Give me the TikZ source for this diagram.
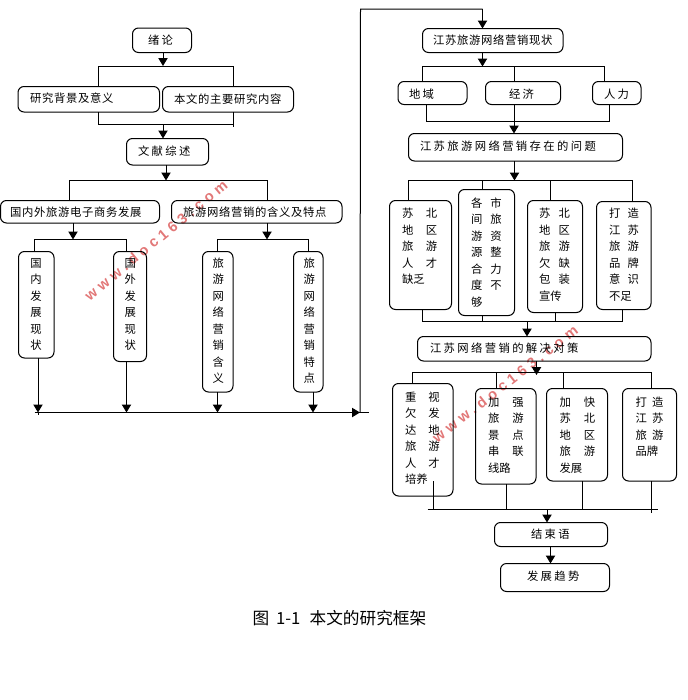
\documentclass[tikz,border=0pt]{standalone}
\usepackage{fontspec}
\usetikzlibrary{arrows.meta,calc}
\newfontfamily\cjN{Noto Sans CJK SC}
\newfontfamily\cjA[LetterSpace=6]{Noto Sans CJK SC}
\newfontfamily\cjB[LetterSpace=21]{Noto Sans CJK SC}
\newfontfamily\wmfont[LetterSpace=30]{Liberation Sans}
\newlength\bxw \newlength\bxh \newlength\bxl \newlength\bxr
\newcommand\sz{\fontsize{8.5pt}{12.375pt}\selectfont}
% name, x1, y1, x2, y2, text left, first line centre y, content
\newcommand\bx[8]{%
  \pgfmathsetlength\bxw{(#4-#2)*0.75pt}%
  \pgfmathsetlength\bxh{(#5-#3)*0.75pt}%
  \pgfmathsetlength\bxl{(#6-#2)*0.75pt}%
  \pgfmathsetlength\bxr{((#3+#5)/2-#7-3.9)*0.75pt}%
  \node[rbox,minimum width=\bxw,minimum height=\bxh] (#1) at ({(#2+#4)/2},{(#3+#5)/2})
    {\makebox[\bxw][l]{\hspace*{\bxl}\rlap{\raisebox{\bxr}[0pt][0pt]{\parbox[t]{200pt}{\raggedright\sz #8}}}}};%
}
\tikzset{
  rbox/.style={draw=black,line width=0.75pt,rounded corners=4.5pt,inner sep=0pt,outer sep=0pt},
  ln/.style={draw=black,line width=0.75pt},
  arr/.style={ln,-{Triangle[width=7pt,length=6pt]}},
  mark text/.style={text=wmred,font=\wmfont\bfseries\fontsize{11pt}{12pt}\selectfont}
}
\definecolor{wmred}{RGB}{226,120,120}
\begin{document}
\begin{tikzpicture}[x=0.75pt,y=-0.75pt]
\path[use as bounding box] (0,0) rectangle (687,700);
\node[mark text,rotate=39.5] (wm1) at (156,240) {www.doc163.com};
\node[mark text,rotate=38] (wm2) at (505,384) {www.doc163.com};
% left column boxes
\bx{intro}{132.5}{28}{191.5}{52.5}{148}{41}{\cjB 绪论}
\bx{bg}{18}{86.5}{159.5}{112}{30}{99}{\cjA 研究背景及意义}
\bx{main}{162.5}{86.5}{293.5}{112}{174}{99.5}{\cjA 本文的主要研究内容}
\bx{lit}{126.5}{138.5}{208.5}{165}{138}{152}{\cjB 文献综述}
\bx{ec}{0.5}{200.5}{159.5}{223}{10}{213}{\cjA 国内外旅游电子商务发展}
\bx{def}{171.5}{200.5}{342}{223}{183}{213}{\cjA 旅游网络营销的含义及特点}
\bx{dom}{18.5}{251.5}{54}{358}{30.5}{263.5}{\cjN 国\\内\\发\\展\\现\\状}
\bx{abr}{113.5}{251.5}{146.5}{361.5}{124.5}{263.5}{\cjN 国\\外\\发\\展\\现\\状}
\bx{mean}{202.5}{251.5}{233}{392}{212.5}{263.5}{\cjN 旅\\游\\网\\络\\营\\销\\含\\义}
\bx{feat}{293.5}{251.5}{323}{392}{303.5}{263.5}{\cjN 旅\\游\\网\\络\\营\\销\\特\\点}
% right column boxes
\bx{now}{422.5}{28.5}{563}{52.5}{433}{41}{\cjA 江苏旅游网络营销现状}
\bx{geo}{398}{81.5}{467}{104.5}{409}{95}{\cjB 地域}
\bx{eco}{485.5}{81.5}{560.5}{104.5}{509}{95}{\cjB 经济}
\bx{hum}{592.5}{81.5}{641}{104.5}{604}{95}{\cjB 人力}
\bx{prob}{408.5}{133.5}{622.5}{161}{420}{147}{\cjB 江苏旅游网络营销存在的问题}
\bx{pa}{389.5}{200.5}{451.5}{309.5}{402}{214}{\cjN\def\G{\hspace{9.5pt}}苏\G 北\\地\G 区\\旅\G 游\\人\G 才\\缺乏}
\bx{pb}{458.5}{189.5}{514.5}{315.5}{471}{203.3}{\cjN\def\G{\hspace{6pt}}各\G 市\\间\G 旅\\游\G 资\\源\G 整\\合\G 力\\度\G 不\\够}
\bx{pc}{527.5}{200.5}{582.5}{312.5}{539}{214}{\cjN\def\G{\hspace{6.3pt}}苏\G 北\\地\G 区\\旅\G 游\\欠\G 缺\\包\G 装\\宣传}
\bx{pd}{596.5}{201.5}{651}{309.5}{609}{214}{\cjN\def\G{\hspace{5.5pt}}打\G 造\\江\G 苏\\旅\G 游\\品\G 牌\\意\G 识\\不足}
\bx{sol}{417.5}{336.5}{651}{361}{430}{349}{\cjB 江苏网络营销的解决对策}
\bx{sa}{392.5}{383.5}{453}{496}{405}{397.3}{\cjN\def\G{\hspace{9pt}}重\G 视\\欠\G 发\\达\G 地\\旅\G 游\\人\G 才\\培养}
\bx{sb}{475.5}{388.5}{536}{484}{488}{402.3}{\cjN\def\G{\hspace{9.7pt}}加\G 强\\旅\G 游\\景\G 点\\串\G 联\\线路}
\bx{sc}{546.5}{388.5}{607.5}{481}{559.5}{402.3}{\cjN\def\G{\hspace{9.7pt}}加\G 快\\苏\G 北\\地\G 区\\旅\G 游\\发展}
\bx{sd}{622.5}{388.5}{676.5}{481}{635.5}{402.3}{\cjN\def\G{\hspace{4pt}}打\G 造\\江\G 苏\\旅\G 游\\品牌}
\bx{end}{494.5}{522.5}{607.5}{546.5}{531}{535}{\cjB 结束语}
\bx{trend}{500.5}{563.5}{609.5}{591.5}{527}{577}{\cjB 发展趋势}
\node[font=\cjN\fontsize{12.5pt}{14pt}\selectfont,inner sep=0pt] (cap) at (339.5,618) {图\hspace{5pt}1-1\hspace{7pt}本文的研究框架};
% junction coordinates
\coordinate (a1) at (163,66);   \coordinate (a1l) at (98.5,66);  \coordinate (a1r) at (233,66);
\coordinate (a2) at (163,124.5);\coordinate (a2l) at (98.5,124.5);\coordinate (a2r) at (233,124.5);\coordinate (a2e) at (233,127);
\coordinate (a3) at (166,180.5);\coordinate (a3l) at (69.5,180.5);\coordinate (a3r) at (267.5,180.5);
\coordinate (a4) at (73,239.5); \coordinate (a4l) at (34.5,239.5);\coordinate (a4r) at (126.5,239.5);
\coordinate (a5) at (267,239.5);\coordinate (a5l) at (217.5,239.5);\coordinate (a5r) at (308.5,239.5);
\coordinate (b1) at (38,412.5); \coordinate (b1e) at (38,415);\coordinate (b2) at (126.5,412.5);\coordinate (b3) at (217.5,412.5);\coordinate (b4) at (313,412.5);
\coordinate (bl) at (34.5,412.5);\coordinate (be) at (369,412.5);\coordinate (bm) at (360,412.5);\coordinate (bs) at (342,412.5);
\coordinate (ctl) at (360.5,9); \coordinate (ctr) at (482.5,9);
% left column connectors
\draw[arr] (intro.south -| a1) -- (a1);
\draw[ln] (bg.north -| a1l) -- (a1l) -- (a1r) -- (main.north -| a1r);
\draw[ln] (bg.south -| a2l) -- (a2l) -- (a2r);
\draw[ln] (main.south -| a2r) -- (a2e);
\draw[arr] (a2) -- (lit.north -| a2);
\draw[arr] (lit.south -| a3) -- (a3);
\draw[ln] (ec.north -| a3l) -- (a3l) -- (a3r) -- (def.north -| a3r);
\draw[arr] (ec.south -| a4) -- (a4);
\draw[arr] (def.south -| a5) -- (a5);
\draw[ln] (dom.north -| a4l) -- (a4l) -- (a4r) -- (abr.north -| a4r);
\draw[ln] (mean.north -| a5l) -- (a5l) -- (a5r) -- (feat.north -| a5r);
\draw[arr] (dom.south -| b1) -- (b1);
\draw[ln] (b1) -- (b1e);
\draw[arr] (abr.south -| b2) -- (b2);
\draw[arr] (mean.south -| b3) -- (b3);
\draw[arr] (feat.south -| b4) -- (b4);
\draw[ln] (bl) -- (be);
\draw[arr] (bs) -- (bm);
\draw[ln] (bm) -- (ctl) -- (ctr);
\draw[arr] (ctr) -- (now.north -| ctr);
% right column junctions
\coordinate (c1) at (482.5,66.5);\coordinate (c1l) at (422.5,66.5);\coordinate (c1m) at (514,66.5);\coordinate (c1r) at (604.5,66.5);
\coordinate (c2) at (514,121);\coordinate (c2l) at (426.5,121);\coordinate (c2r) at (609,121);
\coordinate (d1) at (514.5,180.5);\coordinate (d1a) at (408.5,180.5);\coordinate (d1b) at (482.5,180.5);\coordinate (d1c) at (550.5,180.5);\coordinate (d1d) at (632,180.5);
\coordinate (d2) at (527,321.5);\coordinate (d2a) at (422.5,321.5);\coordinate (d2b) at (482.5,321.5);\coordinate (d2c) at (555.5,321.5);\coordinate (d2d) at (622.5,321.5);
\coordinate (e1) at (536.5,375);\coordinate (e1h) at (536.5,372.5);\coordinate (e1a) at (412.5,372.5);\coordinate (e1b) at (496.5,372.5);\coordinate (e1c) at (563,372.5);\coordinate (e1d) at (651.5,372.5);
\coordinate (e2) at (547,509.5);\coordinate (e2l) at (427.5,509.5);\coordinate (e2r) at (658,509.5);
\coordinate (e2a) at (433.5,509.5);\coordinate (e2b) at (506.5,509.5);\coordinate (e2c) at (582.5,509.5);\coordinate (e2d) at (651.5,509.5);\coordinate (e2de) at (651.5,513);
\coordinate (e3) at (433.5,481);
\coordinate (f1) at (550.5,546.5);
% right column connectors
\draw[arr] (now.south -| c1) -- (c1);
\draw[ln] (geo.north -| c1l) -- (c1l) -- (c1r) -- (hum.north -| c1r);
\draw[ln] (c1m) -- (eco.north -| c1m);
\draw[ln] (geo.south -| c2l) -- (c2l) -- (c2r) -- (hum.south -| c2r);
\draw[arr] (eco.south -| c2) -- (prob.north -| c2);
\draw[arr] (prob.south -| d1) -- (d1);
\draw[ln] (pa.north -| d1a) -- (d1a) -- (d1d) -- (pd.north -| d1d);
\draw[ln] (d1b) -- (pb.north -| d1b);
\draw[ln] (d1c) -- (pc.north -| d1c);
\draw[ln] (pa.south -| d2a) -- (d2a) -- (d2d) -- (pd.south -| d2d);
\draw[ln] (pb.south -| d2b) -- (d2b);
\draw[ln] (pc.south -| d2c) -- (d2c);
\draw[arr] (d2) -- (sol.north -| d2);
\draw[arr] (sol.south -| e1) -- (e1);
\draw[ln] (sa.north -| e1a) -- (e1a) -- (e1d) -- (sd.north -| e1d);
\draw[ln] (e1b) -- (sb.north -| e1b);
\draw[ln] (e1c) -- (sc.north -| e1c);
\draw[ln] (e2l) -- (e2r);
\draw[ln] (e3) -- (e2a);
\draw[ln] (sb.south -| e2b) -- (e2b);
\draw[ln] (sc.south -| e2c) -- (e2c);
\draw[ln] (sd.south -| e2d) -- (e2de);
\draw[arr] (e2) -- (end.north -| e2);
\draw[arr] (end.south -| f1) -- (trend.north -| f1);
\end{tikzpicture}
\end{document}
